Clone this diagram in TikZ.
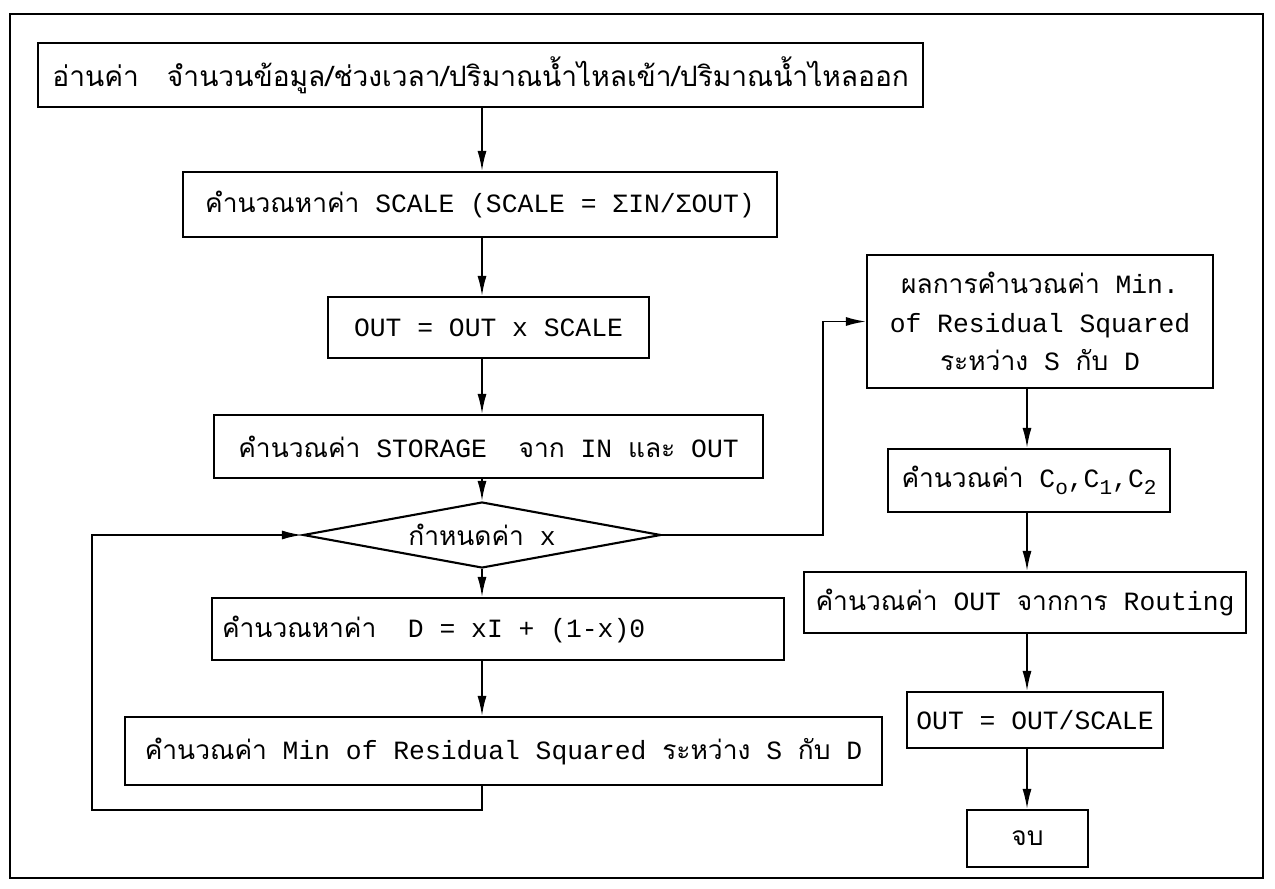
\documentclass[tikz,border=0pt]{standalone}
\usepackage{fontspec}
\setmainfont{Liberation Mono}
\newfontfamily\thaifont[Script=Thai]{Loma}
\usetikzlibrary{arrows.meta}
\usetikzlibrary{shapes.geometric}
\usetikzlibrary{positioning}

\newcommand{\tha}[1]{{\thaifont #1}}
\newcommand{\indice}[1]{\raisebox{-0.55ex}{\fontsize{12}{12}\selectfont #1}}

\begin{document}
\begin{tikzpicture}[x=0.02cm, y=-0.02cm, >={Latex[length=4mm,width=1.8mm]},
    caixa/.style={draw, line width=1.2pt, inner sep=0pt, align=center,
        font=\fontsize{15}{22}\selectfont},
    losango/.style={draw, diamond, aspect=6.9, line width=1.2pt, inner sep=0pt,
        font=\fontsize{15}{18}\selectfont},
    seta/.style={->, line width=1pt}]

    \useasboundingbox (0,0) rectangle (1275,889);

    % moldura
    \draw[line width=1.2pt] (10,14) rectangle (1263,878);

    % coluna da esquerda
    \node[caixa, minimum width=17.7cm, minimum height=1.28cm, font=\fontsize{16}{22}\selectfont] (ler) at (480.5,75)
        {\tha{อ่านค่า\quad จำนวนข้อมูล/ช่วงเวลา/ปริมาณน้ำไหลเข้า/ปริมาณน้ำไหลออก}};
    \node[caixa, minimum width=11.88cm, minimum height=1.3cm] (escala) at (480,204.5)
        {\tha{คำนวณหาค่า} SCALE (SCALE = ΣIN/ΣOUT)};
    \node[caixa, minimum width=6.42cm, minimum height=1.22cm] (mult) at (488.5,327.5)
        {OUT = OUT x SCALE};
    \node[caixa, minimum width=10.98cm, minimum height=1.26cm] (armaz) at (488.5,446.5)
        {\tha{คำนวณค่า} STORAGE \ \tha{จาก} IN \tha{และ} OUT};
    \node[losango, minimum width=7.16cm, minimum height=1.32cm] (decide) at (482,535)
        {\tha{กำหนดค่า} x};
    \node[caixa, minimum width=11.44cm, minimum height=1.24cm] (calcD) at (498,629)
        {\makebox[11.04cm][l]{\tha{คำนวณหาค่า}\ \ D = xI + (1-x)0}};
    \node[caixa, minimum width=15.14cm, minimum height=1.36cm] (minres) at (503.5,751)
        {\tha{คำนวณค่า} Min of Residual Squared \tha{ระหว่าง} S \tha{กับ} D};

    % coluna da direita
    \node[caixa, minimum width=6.92cm, minimum height=2.66cm] (resultado) at (1040,321.5)
        {\tha{ผลการคำนวณค่า} Min.\\ of Residual Squared\\ \tha{ระหว่าง} S \tha{กับ} D};
    \node[caixa, minimum width=5.64cm, minimum height=1.26cm] (coef) at (1029,480.5)
        {\tha{คำนวณค่า} C\indice{o},C\indice{1},C\indice{2}};
    \node[caixa, minimum width=8.84cm, minimum height=1.22cm] (rout) at (1025,602.5)
        {\tha{คำนวณค่า} OUT \tha{จากการ} Routing};
    \node[caixa, minimum width=5.12cm, minimum height=1.12cm] (final) at (1035,720)
        {OUT = OUT/SCALE};
    \node[caixa, minimum width=2.42cm, minimum height=1.14cm] (fim) at (1027.5,838.5)
        {\tha{จบ}};

    % eixos das setas
    \coordinate (eixo) at (482,0);
    \coordinate (eixoD) at (1027,0);
    \coordinate (desvio) at (823,0);
    \coordinate (retorno) at (92,810);

    % setas verticais
    \draw[seta] (ler.south -| eixo) -- (escala.north -| eixo);
    \draw[seta] (escala.south -| eixo) -- (mult.north -| eixo);
    \draw[seta] (mult.south -| eixo) -- (armaz.north -| eixo);
    \draw[seta] (armaz.south -| eixo) -- (decide.north);
    \draw[seta] (decide.south) -- (calcD.north -| decide.south);
    \draw[seta] (calcD.south -| eixo) -- (minres.north -| eixo);
    \draw[seta] (resultado.south -| eixoD) -- (coef.north -| eixoD);
    \draw[seta] (coef.south -| eixoD) -- (rout.north -| eixoD);
    \draw[seta] (rout.south -| eixoD) -- (final.north -| eixoD);
    \draw[seta] (final.south -| eixoD) -- (fim.north -| eixoD);

    % laco e desvio
    \draw[seta] (minres.south -| eixo) |- (retorno) |- (decide.west);
    \draw[seta] (decide.east) -- (decide.east -| desvio) |- (resultado.west);
\end{tikzpicture}
\end{document}
